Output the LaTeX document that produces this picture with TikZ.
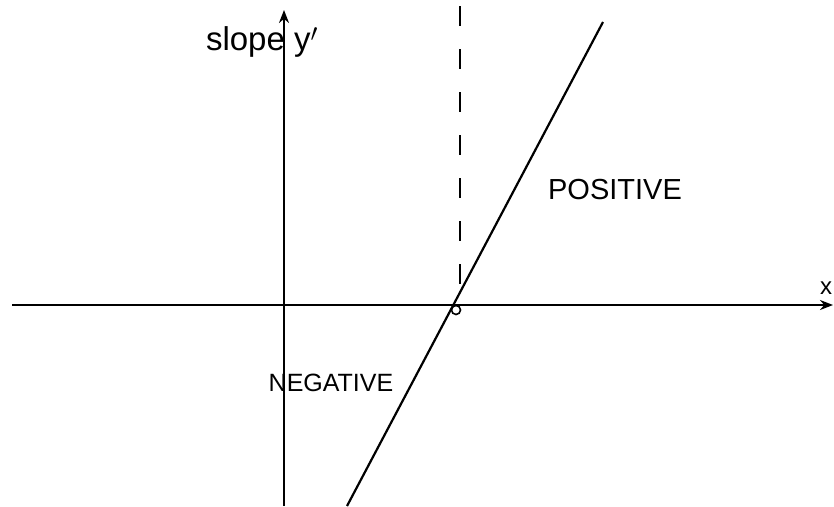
\documentclass[tikz,border=0pt]{standalone}
\usepackage{fontspec}
\setmainfont{Liberation Sans}
\usetikzlibrary{arrows.meta}
\begin{document}
\begin{tikzpicture}[x=1pt,y=-1pt,
  axis/.style={line width=2pt,-{Stealth[length=13pt,width=10pt]}},
  plot/.style={line width=2.2pt},
  asym/.style={line width=2.8pt,dash pattern=on 20pt off 23pt},
  hand/.style={inner sep=0pt}]
\useasboundingbox (0,0) rectangle (834,506);
% axes
\coordinate (xs) at (12,305);
\coordinate (xe) at (833,305);
\coordinate (ys) at (284,506);
\coordinate (ye) at (284,10);
\draw[axis] (xs) -- (xe);
\draw[axis] (ys) -- (ye);
% line
\coordinate (ls) at (347,506);
\coordinate (le) at (603,22);
\draw[plot] (ls) -- (le);
% asymptote / zero
\coordinate (ds) at (460,6);
\coordinate (de) at (460,305);
\draw[asym] (ds) -- (de);
\node[draw,circle,line width=1.6pt,minimum size=9pt,inner sep=0pt] (zero) at (456,310) {};
% labels
\node[hand,font=\fontsize{33}{35}\selectfont] (slope) at (262,42) {slope y$'$};
\node[hand,font=\fontsize{24}{26}\selectfont] (xl) at (826,288) {x};
\node[hand,font=\fontsize{29}{31}\selectfont] (pos) at (615,190) {POSITIVE};
\node[hand,font=\fontsize{25}{27}\selectfont] (neg) at (331,383) {NEGATIVE};
\end{tikzpicture}
\end{document}
